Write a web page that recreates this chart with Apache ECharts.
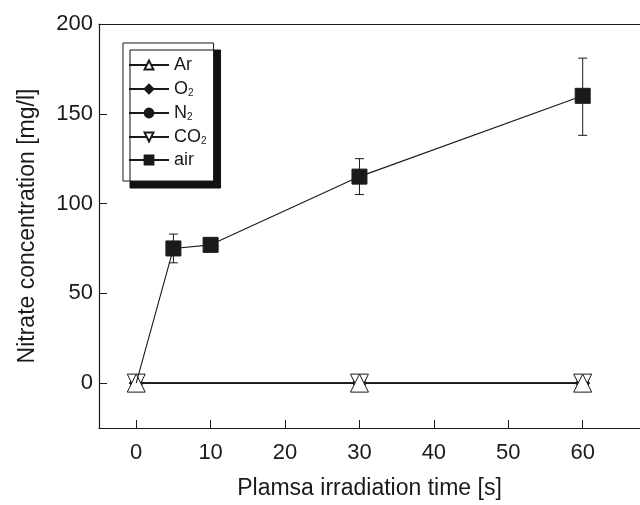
<!DOCTYPE html>
<html>
<head>
<meta charset="utf-8">
<script src="https://cdn.jsdelivr.net/npm/echarts@6/dist/echarts.min.js"></script>
<style>
  html, body { margin: 0; padding: 0; background: #fff; }
  #chart { width: 640px; height: 505px; }
</style>
</head>
<body>
<div id="chart"></div>
<script>
// 数据
const times = [0, 30, 60]
const arValues = [0, 0, 0]
const o2Values = [0, 0, 0]
const n2Values = [0, 0, 0]
const co2Values = [0, 0, 0]
const airTimes = [0, 5, 10, 30, 60]
const airValues = [0, 75, 77, 115, 160]
const airErrTimes = [5, 30, 60]
const airErrLow = [67, 105, 138]
const airErrHigh = [83, 125, 181]
const xTicks = [0, 10, 20, 30, 40, 50, 60]
const yTicks = [0, 50, 100, 150, 200]

const font = '"Liberation Sans", Arial, sans-serif'
const ink = '#1a1a1a'

const pairs = (xs, ys) => xs.map((x, i) => [x, ys[i]])

const chartDom = document.getElementById('chart')
const myChart = echarts.init(chartDom)

const lineSeries = (name, xs, ys, symbol, size, fill, z) => ({
  name,
  type: 'line',
  data: pairs(xs, ys),
  symbol,
  symbolSize: size,
  showAllSymbol: true,
  z,
  lineStyle: { color: ink, width: 1.1 },
  itemStyle: { color: fill, borderColor: ink, borderWidth: 1 },
  emphasis: { disabled: true },
  animation: false
})

// 第一个点(0,0)不画方块
const airData = pairs(airTimes, airValues).map((p, i) =>
  i === 0 ? { value: p, symbol: 'none' } : p)

const option = {
  animation: false,
  grid: { left: 99, top: 24, width: 541, height: 406 },
  legend: {
    orient: 'vertical',
    left: 123,
    top: 43,
    padding: [13, 7, 12, 5],
    itemGap: 5,
    itemWidth: 40,
    itemHeight: 11,
    backgroundColor: '#fff',
    borderColor: ink,
    borderWidth: 1,
    shadowColor: '#111',
    shadowBlur: 0,
    shadowOffsetX: 7,
    shadowOffsetY: 7,
    data: ['Ar', 'O2', 'N2', 'CO2', 'air'],
    formatter: name => {
      const m = name.match(/^(.*)2$/)
      return m ? '{a|' + m[1] + '}{s|2}' : '{a|' + name + '}'
    },
    textStyle: {
      fontFamily: font,
      color: ink,
      rich: {
        a: { fontSize: 18, fontFamily: font, color: ink, lineHeight: 18 },
        s: { fontSize: 10, fontFamily: font, color: ink, verticalAlign: 'bottom', lineHeight: 18, padding: [9, 0, 0, 0] }
      }
    }
  },
  xAxis: [
    {
      type: 'value',
      min: -5,
      max: 67.7,
      interval: 5,
      name: 'Plamsa irradiation time [s]',
      nameLocation: 'middle',
      nameGap: 49,
      nameTextStyle: { fontFamily: font, fontSize: 23, color: ink },
      axisLine: { onZero: false, lineStyle: { color: ink, width: 1.2 } },
      axisTick: { inside: true, length: 8, lineStyle: { color: ink }, customValues: xTicks },
      axisLabel: { fontFamily: font, fontSize: 22, color: ink, margin: 14, customValues: xTicks },
      splitLine: { show: false }
    },
    {
      // 上边框
      type: 'value',
      position: 'top',
      min: -5,
      max: 67.7,
      axisLine: { show: true, onZero: false, lineStyle: { color: ink, width: 1.2 } },
      axisTick: { show: false },
      axisLabel: { show: false },
      splitLine: { show: false }
    }
  ],
  yAxis: {
    type: 'value',
    min: -25,
    max: 200,
    interval: 25,
    name: 'Nitrate concentration [mg/l]',
    nameLocation: 'middle',
    nameGap: 60,
    nameTextStyle: { fontFamily: font, fontSize: 23, color: ink },
    axisLine: { show: true, onZero: false, lineStyle: { color: ink, width: 1.2 } },
    axisTick: { inside: true, length: 8, lineStyle: { color: ink }, customValues: yTicks },
    axisLabel: { fontFamily: font, fontSize: 22, color: ink, margin: 6, customValues: yTicks },
    splitLine: { show: false }
  },
  series: [
    {
      name: 'airErr',
      type: 'custom',
      z: 1,
      data: airErrTimes.map((t, i) => [t, airErrLow[i], airErrHigh[i]]),
      renderItem: (params, api) => {
        const lo = api.coord([api.value(0), api.value(1)])
        const hi = api.coord([api.value(0), api.value(2)])
        const c = 4.5
        const st = { stroke: ink, lineWidth: 1 }
        return {
          type: 'group',
          children: [
            { type: 'line', shape: { x1: lo[0], y1: lo[1], x2: hi[0], y2: hi[1] }, style: st },
            { type: 'line', shape: { x1: lo[0] - c, y1: lo[1], x2: lo[0] + c, y2: lo[1] }, style: st },
            { type: 'line', shape: { x1: hi[0] - c, y1: hi[1], x2: hi[0] + c, y2: hi[1] }, style: st }
          ]
        }
      }
    },
    lineSeries('O2', times, o2Values, 'diamond', 14, ink, 2),
    lineSeries('N2', times, n2Values, 'circle', 12, ink, 2),
    lineSeries('Ar', times, arValues, 'triangle', 18, '#fff', 4),
    lineSeries('CO2', times, co2Values, 'path://M0,0 L10,0 L5,8.66 Z', 18, '#fff', 3),
    Object.assign(lineSeries('air', airTimes, airValues, 'rect', 15, ink, 5), { data: airData })
  ]
}
option && myChart.setOption(option)
</script>
</body>
</html>
